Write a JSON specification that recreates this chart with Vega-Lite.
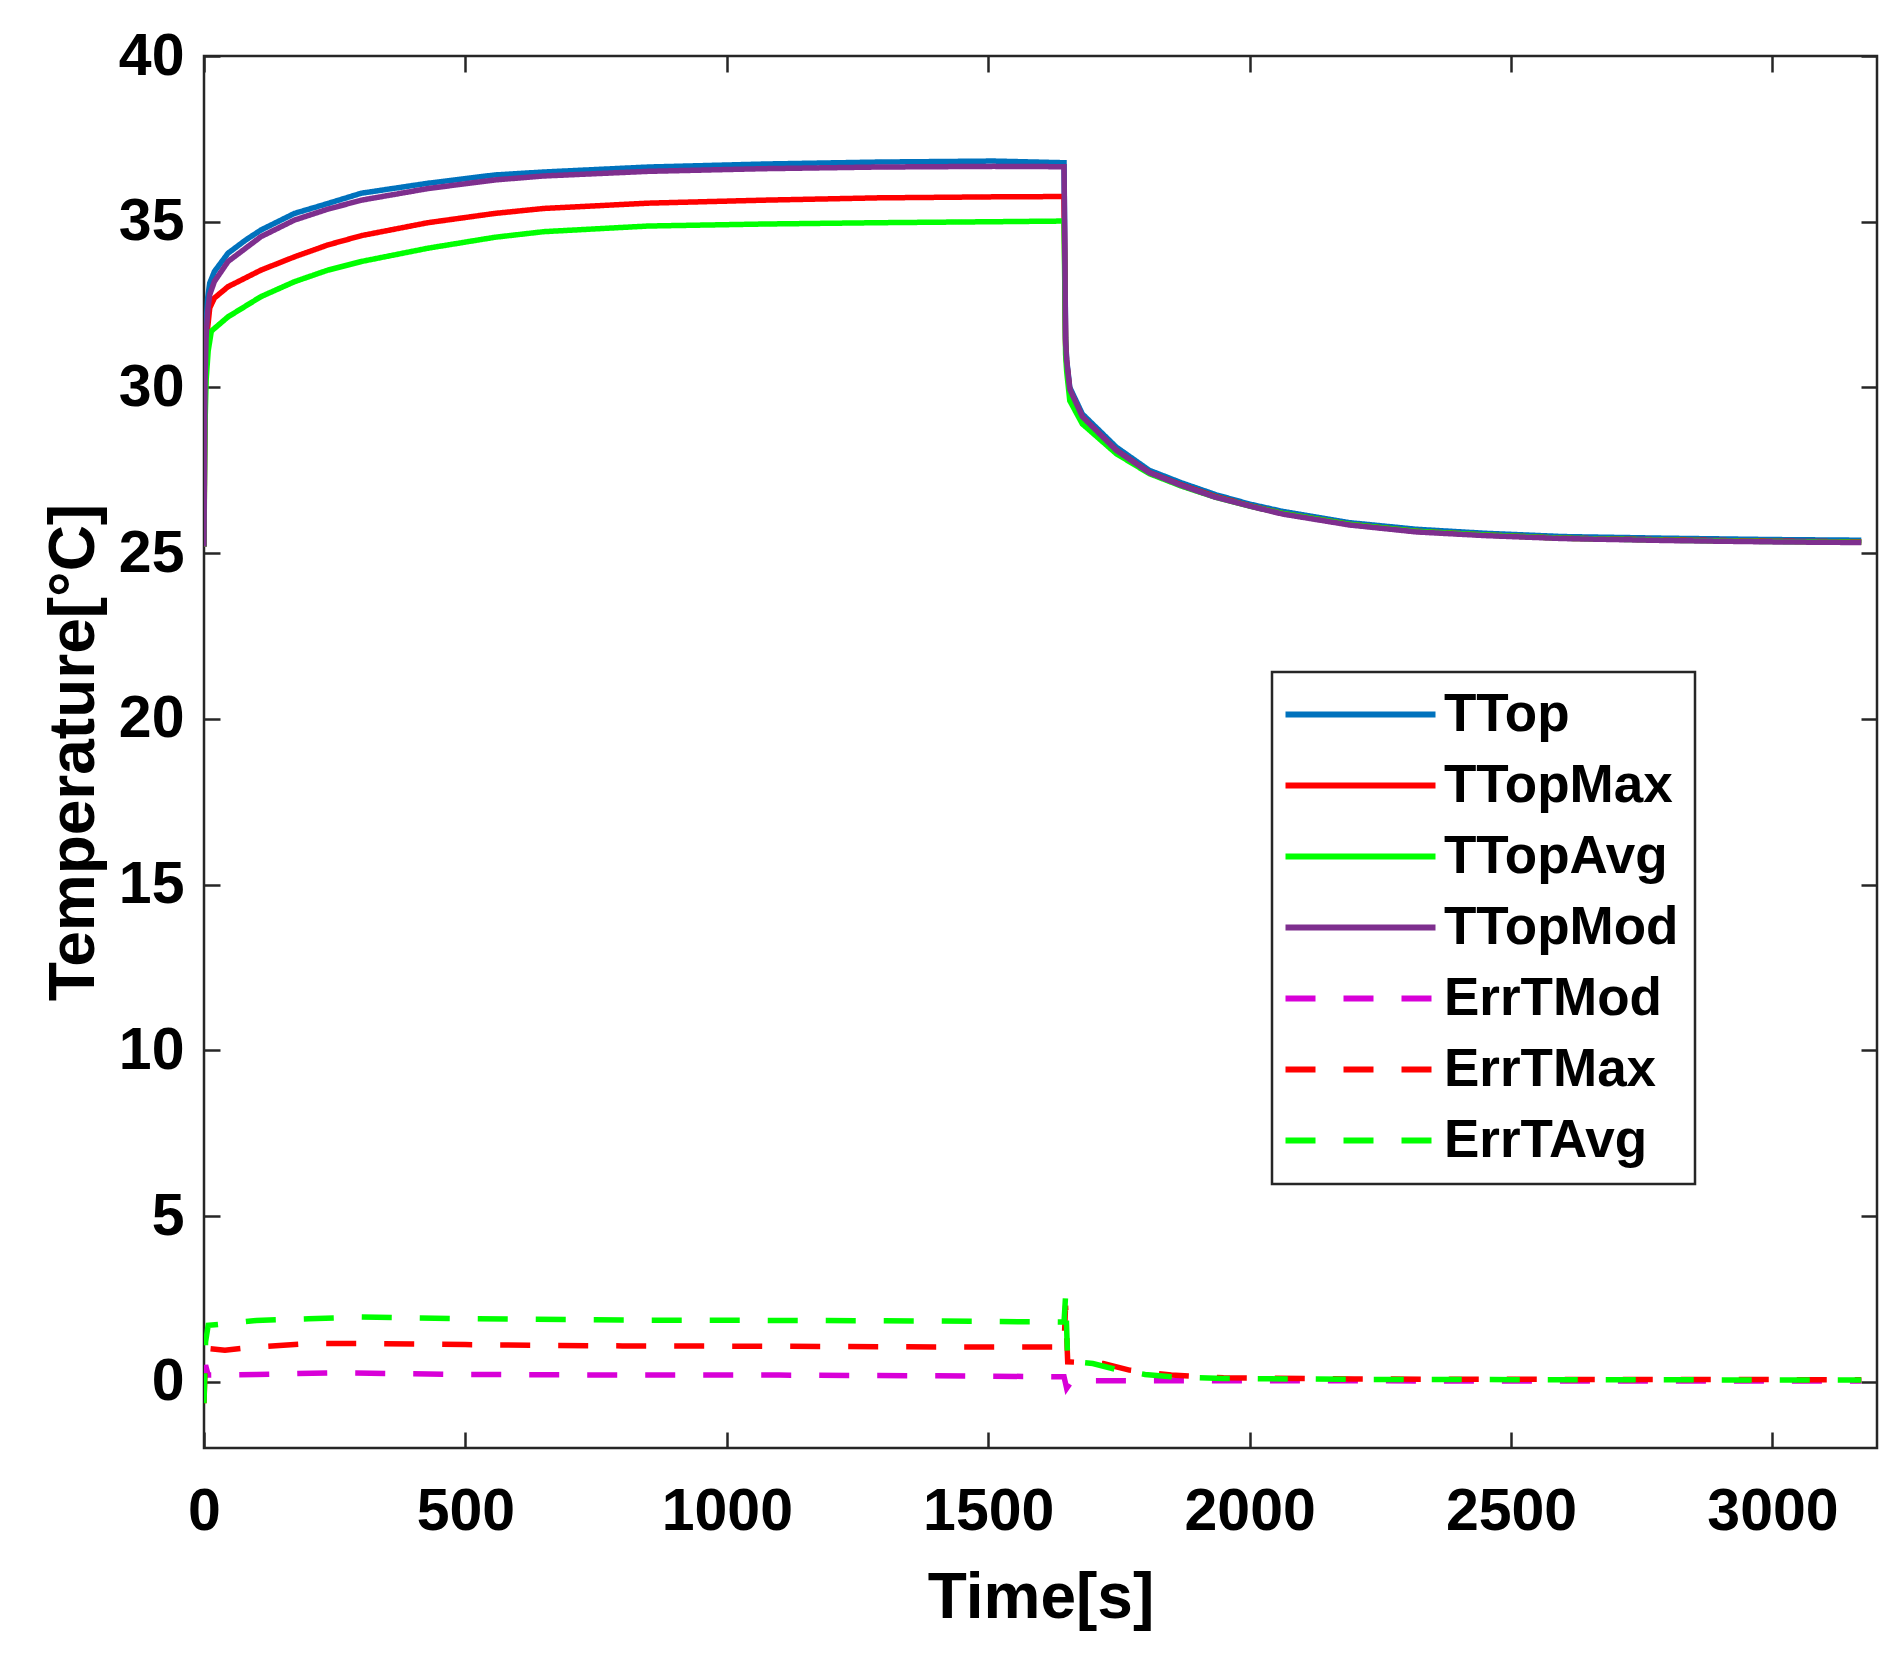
{
  "$schema": "https://vega.github.io/schema/vega-lite/v6.json",
  "width": 1673,
  "height": 1392,
  "autosize": "none",
  "padding": {"left": 204, "top": 56, "right": 22, "bottom": 220},
  "background": "white",
  "config": {
    "font": "Liberation Sans",
    "view": {"stroke": "#262626", "strokeWidth": 2.5},
    "legend": {"strokeWidth": 2.5},
    "axis": {
      "labelFont": "Liberation Sans",
      "labelFontWeight": "bold",
      "labelFontSize": 59,
      "labelColor": "black",
      "titleFont": "Liberation Sans",
      "titleFontWeight": "bold",
      "titleFontSize": 64,
      "titleColor": "black",
      "grid": false,
      "domain": false,
      "tickColor": "#262626",
      "tickWidth": 2.5,
      "tickSize": -16,
      "format": "d"
    }
  },
  "layer": [
    {
      "data": {
        "values": [
          {"s": "TTop", "t": 0, "v": 25.2}, {"s": "TTop", "t": 1, "v": 28.5}, {"s": "TTop", "t": 2, "v": 30.6},
          {"s": "TTop", "t": 4, "v": 31.9}, {"s": "TTop", "t": 7, "v": 32.7}, {"s": "TTop", "t": 11, "v": 33.15},
          {"s": "TTop", "t": 20, "v": 33.5}, {"s": "TTop", "t": 46, "v": 34.05}, {"s": "TTop", "t": 80, "v": 34.45},
          {"s": "TTop", "t": 109, "v": 34.75}, {"s": "TTop", "t": 173, "v": 35.25}, {"s": "TTop", "t": 237, "v": 35.55},
          {"s": "TTop", "t": 301, "v": 35.86}, {"s": "TTop", "t": 428, "v": 36.16}, {"s": "TTop", "t": 556, "v": 36.41},
          {"s": "TTop", "t": 650, "v": 36.5}, {"s": "TTop", "t": 850, "v": 36.65}, {"s": "TTop", "t": 1070, "v": 36.74},
          {"s": "TTop", "t": 1290, "v": 36.8}, {"s": "TTop", "t": 1510, "v": 36.83}, {"s": "TTop", "t": 1645, "v": 36.78},
          {"s": "TTop", "t": 1648, "v": 31.5}, {"s": "TTop", "t": 1650, "v": 30.85}, {"s": "TTop", "t": 1656, "v": 30.0},
          {"s": "TTop", "t": 1680, "v": 29.2}, {"s": "TTop", "t": 1745, "v": 28.2}, {"s": "TTop", "t": 1808, "v": 27.5},
          {"s": "TTop", "t": 1870, "v": 27.12}, {"s": "TTop", "t": 1936, "v": 26.76}, {"s": "TTop", "t": 2000, "v": 26.48},
          {"s": "TTop", "t": 2063, "v": 26.26}, {"s": "TTop", "t": 2191, "v": 25.92}, {"s": "TTop", "t": 2319, "v": 25.72},
          {"s": "TTop", "t": 2450, "v": 25.6}, {"s": "TTop", "t": 2600, "v": 25.5}, {"s": "TTop", "t": 2800, "v": 25.45},
          {"s": "TTop", "t": 3000, "v": 25.41}, {"s": "TTop", "t": 3170, "v": 25.39},

          {"s": "TTopMax", "t": 0, "v": 25.2}, {"s": "TTopMax", "t": 1, "v": 27.8}, {"s": "TTopMax", "t": 2, "v": 29.6},
          {"s": "TTopMax", "t": 4, "v": 30.9}, {"s": "TTopMax", "t": 7, "v": 31.8}, {"s": "TTopMax", "t": 11, "v": 32.4},
          {"s": "TTopMax", "t": 20, "v": 32.7}, {"s": "TTopMax", "t": 46, "v": 33.04}, {"s": "TTopMax", "t": 109, "v": 33.54},
          {"s": "TTopMax", "t": 173, "v": 33.94}, {"s": "TTopMax", "t": 237, "v": 34.3}, {"s": "TTopMax", "t": 301, "v": 34.58},
          {"s": "TTopMax", "t": 428, "v": 34.97}, {"s": "TTopMax", "t": 556, "v": 35.25}, {"s": "TTopMax", "t": 650, "v": 35.4},
          {"s": "TTopMax", "t": 850, "v": 35.56}, {"s": "TTopMax", "t": 1070, "v": 35.65}, {"s": "TTopMax", "t": 1290, "v": 35.72},
          {"s": "TTopMax", "t": 1510, "v": 35.75}, {"s": "TTopMax", "t": 1645, "v": 35.76}, {"s": "TTopMax", "t": 1648, "v": 31.3},
          {"s": "TTopMax", "t": 1650, "v": 30.75}, {"s": "TTopMax", "t": 1656, "v": 29.9}, {"s": "TTopMax", "t": 1680, "v": 29.1},
          {"s": "TTopMax", "t": 1745, "v": 28.1}, {"s": "TTopMax", "t": 1808, "v": 27.43}, {"s": "TTopMax", "t": 1870, "v": 27.05},
          {"s": "TTopMax", "t": 1936, "v": 26.7}, {"s": "TTopMax", "t": 2000, "v": 26.43}, {"s": "TTopMax", "t": 2063, "v": 26.2},
          {"s": "TTopMax", "t": 2191, "v": 25.87}, {"s": "TTopMax", "t": 2319, "v": 25.66}, {"s": "TTopMax", "t": 2450, "v": 25.55},
          {"s": "TTopMax", "t": 2600, "v": 25.45}, {"s": "TTopMax", "t": 2800, "v": 25.4}, {"s": "TTopMax", "t": 3000, "v": 25.36},
          {"s": "TTopMax", "t": 3170, "v": 25.34},

          {"s": "TTopAvg", "t": 0, "v": 25.2}, {"s": "TTopAvg", "t": 1, "v": 27.3}, {"s": "TTopAvg", "t": 2, "v": 28.9},
          {"s": "TTopAvg", "t": 4, "v": 30.2}, {"s": "TTopAvg", "t": 8, "v": 31.1}, {"s": "TTopAvg", "t": 14, "v": 31.7},
          {"s": "TTopAvg", "t": 46, "v": 32.13}, {"s": "TTopAvg", "t": 109, "v": 32.74}, {"s": "TTopAvg", "t": 173, "v": 33.19},
          {"s": "TTopAvg", "t": 237, "v": 33.54}, {"s": "TTopAvg", "t": 301, "v": 33.8}, {"s": "TTopAvg", "t": 428, "v": 34.2},
          {"s": "TTopAvg", "t": 556, "v": 34.53}, {"s": "TTopAvg", "t": 650, "v": 34.7}, {"s": "TTopAvg", "t": 850, "v": 34.87},
          {"s": "TTopAvg", "t": 1070, "v": 34.93}, {"s": "TTopAvg", "t": 1290, "v": 34.97}, {"s": "TTopAvg", "t": 1510, "v": 35.0},
          {"s": "TTopAvg", "t": 1645, "v": 35.02}, {"s": "TTopAvg", "t": 1648, "v": 31.0}, {"s": "TTopAvg", "t": 1650, "v": 30.5},
          {"s": "TTopAvg", "t": 1656, "v": 29.6}, {"s": "TTopAvg", "t": 1680, "v": 28.9}, {"s": "TTopAvg", "t": 1745, "v": 28.0},
          {"s": "TTopAvg", "t": 1808, "v": 27.4}, {"s": "TTopAvg", "t": 1870, "v": 27.02}, {"s": "TTopAvg", "t": 1936, "v": 26.68},
          {"s": "TTopAvg", "t": 2000, "v": 26.42}, {"s": "TTopAvg", "t": 2063, "v": 26.2}, {"s": "TTopAvg", "t": 2191, "v": 25.87},
          {"s": "TTopAvg", "t": 2319, "v": 25.66}, {"s": "TTopAvg", "t": 2450, "v": 25.55}, {"s": "TTopAvg", "t": 2600, "v": 25.45},
          {"s": "TTopAvg", "t": 2800, "v": 25.39}, {"s": "TTopAvg", "t": 3000, "v": 25.35}, {"s": "TTopAvg", "t": 3170, "v": 25.33},

          {"s": "TTopMod", "t": 0, "v": 25.2}, {"s": "TTopMod", "t": 1, "v": 28.2}, {"s": "TTopMod", "t": 2, "v": 30.2},
          {"s": "TTopMod", "t": 4, "v": 31.5}, {"s": "TTopMod", "t": 7, "v": 32.3}, {"s": "TTopMod", "t": 11, "v": 32.8},
          {"s": "TTopMod", "t": 20, "v": 33.2}, {"s": "TTopMod", "t": 46, "v": 33.8}, {"s": "TTopMod", "t": 109, "v": 34.55},
          {"s": "TTopMod", "t": 173, "v": 35.05}, {"s": "TTopMod", "t": 237, "v": 35.38}, {"s": "TTopMod", "t": 301, "v": 35.65},
          {"s": "TTopMod", "t": 428, "v": 36.0}, {"s": "TTopMod", "t": 556, "v": 36.26}, {"s": "TTopMod", "t": 650, "v": 36.38},
          {"s": "TTopMod", "t": 850, "v": 36.52}, {"s": "TTopMod", "t": 1070, "v": 36.6}, {"s": "TTopMod", "t": 1290, "v": 36.65},
          {"s": "TTopMod", "t": 1510, "v": 36.67}, {"s": "TTopMod", "t": 1645, "v": 36.66}, {"s": "TTopMod", "t": 1648, "v": 31.4},
          {"s": "TTopMod", "t": 1650, "v": 30.8}, {"s": "TTopMod", "t": 1656, "v": 29.95}, {"s": "TTopMod", "t": 1680, "v": 29.12},
          {"s": "TTopMod", "t": 1745, "v": 28.1}, {"s": "TTopMod", "t": 1808, "v": 27.43}, {"s": "TTopMod", "t": 1870, "v": 27.04},
          {"s": "TTopMod", "t": 1936, "v": 26.68}, {"s": "TTopMod", "t": 2000, "v": 26.42}, {"s": "TTopMod", "t": 2063, "v": 26.18},
          {"s": "TTopMod", "t": 2191, "v": 25.85}, {"s": "TTopMod", "t": 2319, "v": 25.64}, {"s": "TTopMod", "t": 2450, "v": 25.53},
          {"s": "TTopMod", "t": 2600, "v": 25.44}, {"s": "TTopMod", "t": 2800, "v": 25.38}, {"s": "TTopMod", "t": 3000, "v": 25.34},
          {"s": "TTopMod", "t": 3170, "v": 25.32},

          {"s": "ErrTMod", "t": 0, "v": 0.0}, {"s": "ErrTMod", "t": 3, "v": 0.5}, {"s": "ErrTMod", "t": 8, "v": 0.2},
          {"s": "ErrTMod", "t": 100, "v": 0.22}, {"s": "ErrTMod", "t": 250, "v": 0.27}, {"s": "ErrTMod", "t": 500, "v": 0.22},
          {"s": "ErrTMod", "t": 800, "v": 0.2}, {"s": "ErrTMod", "t": 1100, "v": 0.2}, {"s": "ErrTMod", "t": 1400, "v": 0.18},
          {"s": "ErrTMod", "t": 1645, "v": 0.15}, {"s": "ErrTMod", "t": 1650, "v": -0.2}, {"s": "ErrTMod", "t": 1660, "v": 0.03},
          {"s": "ErrTMod", "t": 2000, "v": 0.03}, {"s": "ErrTMod", "t": 2600, "v": 0.02}, {"s": "ErrTMod", "t": 3170, "v": 0.02},

          {"s": "ErrTMax", "t": 0, "v": -0.65}, {"s": "ErrTMax", "t": 3, "v": 0.9}, {"s": "ErrTMax", "t": 8, "v": 1.0},
          {"s": "ErrTMax", "t": 40, "v": 0.95}, {"s": "ErrTMax", "t": 100, "v": 1.05}, {"s": "ErrTMax", "t": 200, "v": 1.15},
          {"s": "ErrTMax", "t": 300, "v": 1.15}, {"s": "ErrTMax", "t": 500, "v": 1.12}, {"s": "ErrTMax", "t": 800, "v": 1.08},
          {"s": "ErrTMax", "t": 1100, "v": 1.07}, {"s": "ErrTMax", "t": 1400, "v": 1.05}, {"s": "ErrTMax", "t": 1645, "v": 1.05},
          {"s": "ErrTMax", "t": 1648, "v": 2.3}, {"s": "ErrTMax", "t": 1652, "v": 0.6}, {"s": "ErrTMax", "t": 1720, "v": 0.55},
          {"s": "ErrTMax", "t": 1770, "v": 0.35}, {"s": "ErrTMax", "t": 1850, "v": 0.2}, {"s": "ErrTMax", "t": 1950, "v": 0.12},
          {"s": "ErrTMax", "t": 2200, "v": 0.08}, {"s": "ErrTMax", "t": 2600, "v": 0.07}, {"s": "ErrTMax", "t": 3170, "v": 0.06},

          {"s": "ErrTAvg", "t": 0, "v": -0.65}, {"s": "ErrTAvg", "t": 3, "v": 1.2}, {"s": "ErrTAvg", "t": 8, "v": 1.7},
          {"s": "ErrTAvg", "t": 40, "v": 1.75}, {"s": "ErrTAvg", "t": 100, "v": 1.85}, {"s": "ErrTAvg", "t": 200, "v": 1.9},
          {"s": "ErrTAvg", "t": 300, "v": 1.95}, {"s": "ErrTAvg", "t": 500, "v": 1.9}, {"s": "ErrTAvg", "t": 800, "v": 1.86},
          {"s": "ErrTAvg", "t": 1100, "v": 1.85}, {"s": "ErrTAvg", "t": 1400, "v": 1.83}, {"s": "ErrTAvg", "t": 1645, "v": 1.8},
          {"s": "ErrTAvg", "t": 1648, "v": 2.6}, {"s": "ErrTAvg", "t": 1652, "v": 0.62}, {"s": "ErrTAvg", "t": 1700, "v": 0.55},
          {"s": "ErrTAvg", "t": 1750, "v": 0.35}, {"s": "ErrTAvg", "t": 1800, "v": 0.22}, {"s": "ErrTAvg", "t": 1850, "v": 0.15},
          {"s": "ErrTAvg", "t": 1950, "v": 0.1}, {"s": "ErrTAvg", "t": 2200, "v": 0.07}, {"s": "ErrTAvg", "t": 2600, "v": 0.06},
          {"s": "ErrTAvg", "t": 3170, "v": 0.05}
        ]
      },
      "mark": {"type": "line", "strokeWidth": 5.5, "clip": true},
      "encoding": {
        "x": {
          "field": "t", "type": "quantitative", "title": "Time[s]",
          "scale": {"domain": [0, 3200], "nice": false, "zero": false},
          "axis": {"values": [0, 500, 1000, 1500, 2000, 2500, 3000], "labelPadding": 50, "titlePadding": 25, "labelFlush": false}
        },
        "y": {
          "field": "v", "type": "quantitative", "title": "Temperature[°C]",
          "scale": {"domain": [-2, 40], "nice": false, "zero": false},
          "axis": {"values": [0, 5, 10, 15, 20, 25, 30, 35, 40], "labelPadding": 36, "titlePadding": 12, "labelFlush": false}
        },
        "color": {
          "field": "s", "type": "nominal", "title": null,
          "scale": {
            "domain": ["TTop", "TTopMax", "TTopAvg", "TTopMod", "ErrTMod", "ErrTMax", "ErrTAvg"],
            "range": ["#0072BD", "#FF0000", "#00FF00", "#7E2F8E", "#D800D8", "#FF0000", "#00FF00"]
          },
          "legend": {
            "orient": "none",
            "legendX": 1068,
            "legendY": 616,
            "fillColor": "white",
            "strokeColor": "#262626",
            "padding": 16,
            "cornerRadius": 0,
            "symbolType": "M-5,0H5",
            "symbolSize": 900,
            "symbolStrokeWidth": 6,
            "symbolOffset": 46,
            "labelOffset": 57,
            "labelLimit": 500,
            "labelFont": "Liberation Sans",
            "labelFontWeight": "bold",
            "labelFontSize": 53,
            "labelColor": "black",
            "rowPadding": 17
          }
        },
        "strokeDash": {
          "field": "s", "type": "nominal", "title": null,
          "scale": {
            "domain": ["TTop", "TTopMax", "TTopAvg", "TTopMod", "ErrTMod", "ErrTMax", "ErrTAvg"],
            "range": [[1, 0], [1, 0], [1, 0], [1, 0], [30, 28], [30, 28], [30, 28]]
          }
        }
      }
    },
    {
      "data": {"values": [{"t": 0, "v": 0}]},
      "mark": {"type": "point", "opacity": 0},
      "encoding": {
        "x": {
          "field": "t", "type": "quantitative",
          "axis": {"orient": "top", "values": [0, 500, 1000, 1500, 2000, 2500, 3000], "labels": false, "title": null}
        },
        "y": {
          "field": "v", "type": "quantitative",
          "axis": {"orient": "right", "values": [0, 5, 10, 15, 20, 25, 30, 35, 40], "labels": false, "title": null}
        }
      }
    }
  ],
  "resolve": {"axis": {"x": "independent", "y": "independent"}}
}
